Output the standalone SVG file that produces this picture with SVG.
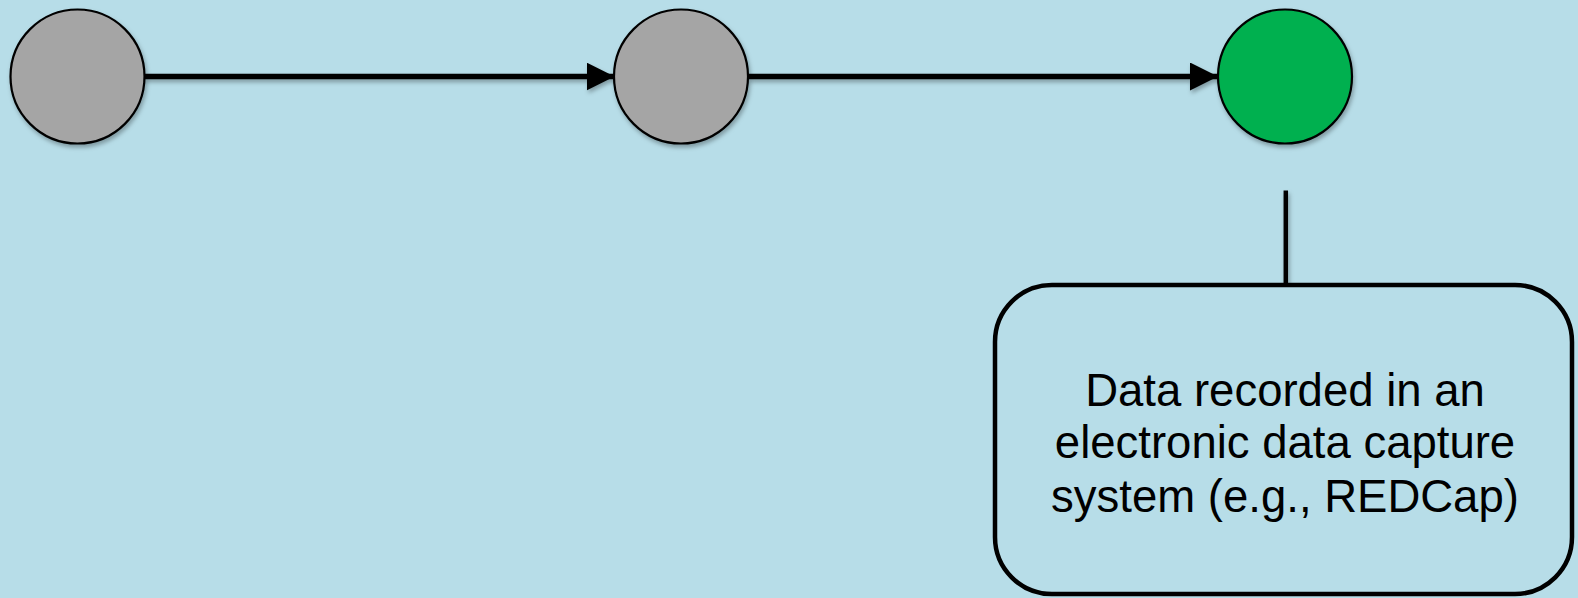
<svg xmlns="http://www.w3.org/2000/svg" width="1578" height="598" viewBox="0 0 1578 598">
  <style>
    .node { stroke: #000; stroke-width: 2.2; }
    .gray { fill: #A5A5A5; }
    .green { fill: #00B050; }
    .conn { stroke: #000; fill: none; }
    .label { font-family: "Liberation Sans", Arial, sans-serif; font-size: 45.5px; fill: #000; text-anchor: middle; }
  </style>
  <defs>
    <filter id="shadow" x="-20%" y="-20%" width="140%" height="140%">
      <feDropShadow dx="1.5" dy="3" stdDeviation="2" flood-color="#000" flood-opacity="0.3"/>
    </filter>
    <marker id="arrow" markerUnits="userSpaceOnUse" markerWidth="30" markerHeight="30" refX="28" refY="14" orient="auto">
      <polygon points="0,0 28,14 0,28" fill="#000"/>
    </marker>
  </defs>
  <rect x="0" y="0" width="1578" height="598" fill="#B7DDE8"/>
  <g id="connectors" filter="url(#shadow)">
    <line class="conn" x1="144" y1="76.5" x2="614.5" y2="76.5" stroke-width="5.5" marker-end="url(#arrow)"/>
    <line class="conn" x1="748" y1="76.5" x2="1218" y2="76.5" stroke-width="5.5" marker-end="url(#arrow)"/>
    <line class="conn" x1="1285.8" y1="190.5" x2="1285.8" y2="285" stroke-width="4.5"/>
  </g>
  <g id="node1" filter="url(#shadow)">
    <circle class="node gray" cx="77.5" cy="76.5" r="67"/>
  </g>
  <g id="node2" filter="url(#shadow)">
    <circle class="node gray" cx="681" cy="76.5" r="67"/>
  </g>
  <g id="node3" filter="url(#shadow)">
    <circle class="node green" cx="1285" cy="76.5" r="67"/>
  </g>
  <g id="node4">
    <rect x="995" y="285" width="577" height="309" rx="57" ry="57" fill="#B7DDE8" stroke="#000" stroke-width="4.5"/>
    <text class="label" x="1285" y="405.5">Data recorded in an</text>
    <text class="label" x="1285" y="458">electronic data capture</text>
    <text class="label" x="1285" y="512">system (e.g., REDCap)</text>
  </g>
</svg>
